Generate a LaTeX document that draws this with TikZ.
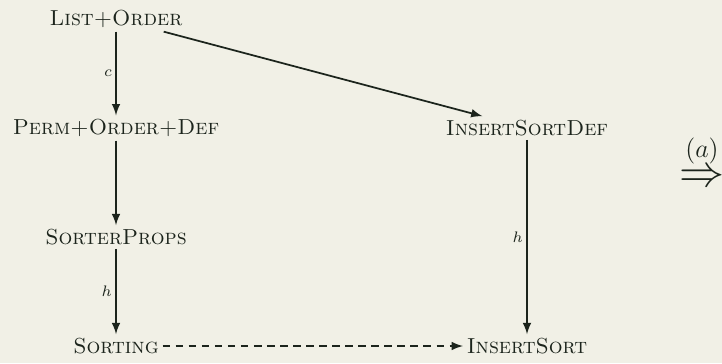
\documentclass[tikz,border=0pt]{standalone}
\usepackage{amssymb, amsmath}
\usepackage{xcolor}
\usepackage{tikz}
\usetikzlibrary{arrows.meta}

\definecolor{fondo}{RGB}{241,240,230}
\definecolor{tinta}{RGB}{28,36,28}

\begin{document}
\begin{tikzpicture}[>=latex, x=0.46pt, y=-0.46pt, color=tinta,
    modulo/.style={inner sep=1.6pt, text=tinta},
    flecha/.style={->, line width=0.8pt},
    etiq/.style={font=\scriptsize, inner sep=1.5pt}]
                % Fondo
                \fill[fondo] (0,0) rectangle (722,363);
                \useasboundingbox (0,0) rectangle (722,363);
                % Modulos
                \node[modulo] (lo) at (116,19) {\textsc{List+Order}};
                \node[modulo] (pod) at (116,128) {\textsc{Perm+Order+Def}};
                \node[modulo] (sp) at (116,237) {\textsc{SorterProps}};
                \node[modulo] (so) at (116,346) {\textsc{Sorting}};
                \node[modulo] (isd) at (527,128) {\textsc{InsertSortDef}};
                \node[modulo] (is) at (527,346) {\textsc{InsertSort}};
                % Flechas
                \draw[flecha] (lo) -- node[etiq, left] {$c$} (pod);
                \draw[flecha] (pod) -- (sp);
                \draw[flecha] (sp) -- node[etiq, left] {$h$} (so);
                \draw[flecha] (lo) -- (isd);
                \draw[flecha] (isd) -- node[etiq, left] {$h$} (is);
                \draw[flecha, dash pattern=on 3.5pt off 2.5pt] (so) -- (is);
                % Paso (a)
                \node[anchor=base west, inner sep=0pt, font=\huge] (paso) at (679,186) {$\overset{\scriptscriptstyle (a)}{\Rightarrow}$};
            \end{tikzpicture}
\end{document}
